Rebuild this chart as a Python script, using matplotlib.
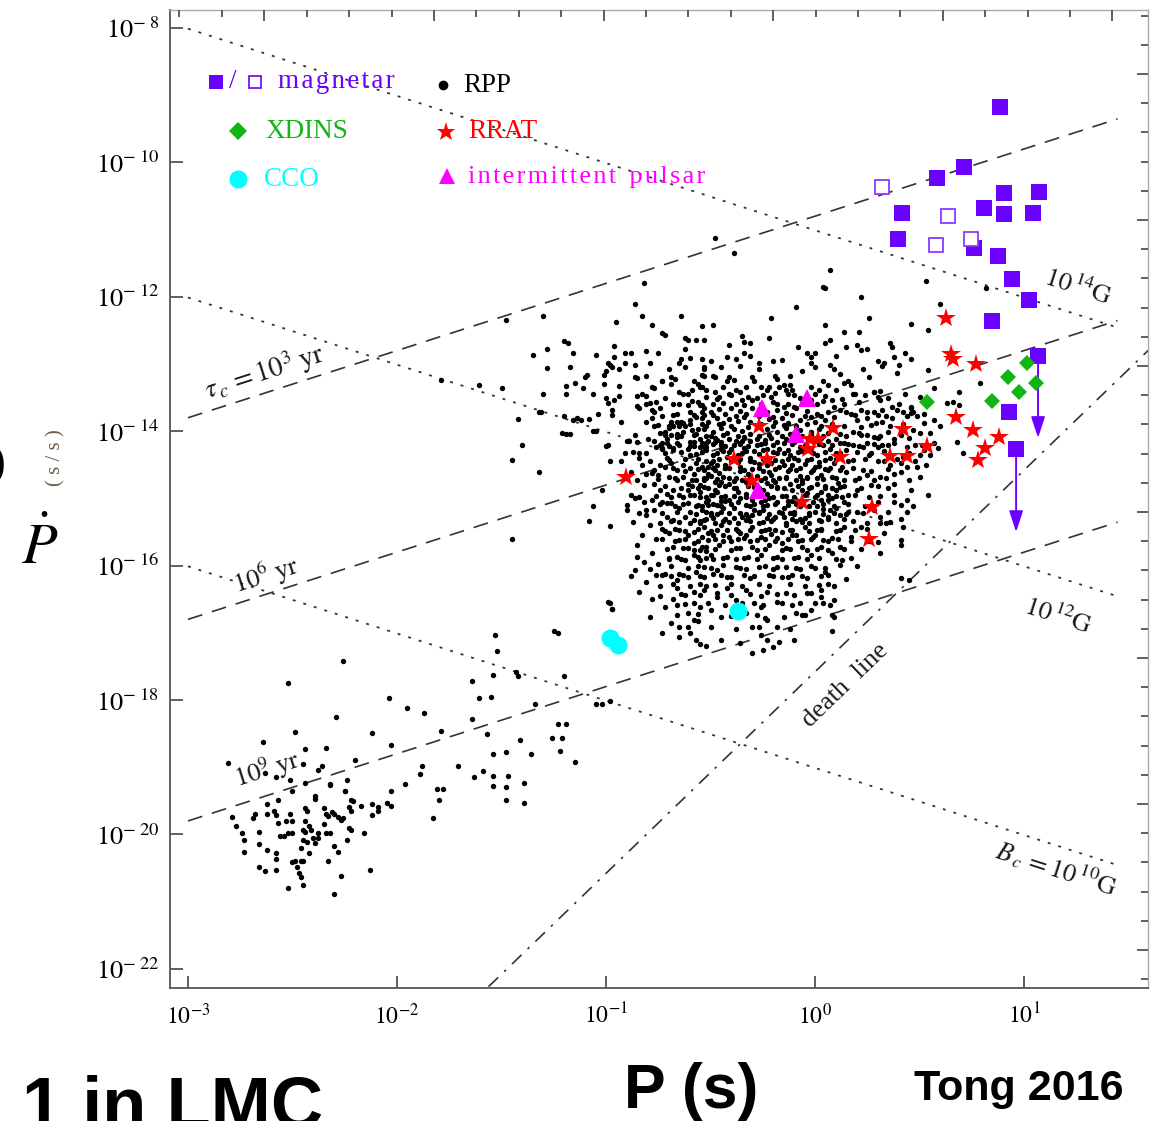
import matplotlib
matplotlib.use('Agg')
import matplotlib.pyplot as plt
import numpy as np

plt.rcParams['mathtext.fontset'] = 'stix'
plt.rcParams['font.family'] = ['Liberation Serif', 'DejaVu Serif']

# ---------------- data (log10 P [s], log10 Pdot [s/s]) ----------------
mag_logP = [0.885, 0.713, 0.584, 0.416, 0.397, 0.904, 1.072, 0.809, 0.904, 1.043,
            0.761, 0.876, 0.943, 1.024, 0.847, 1.067, 0.928, 0.962]
mag_logPdot = [-9.18, -10.07, -10.23, -10.75, -11.14, -10.46, -10.44, -10.68, -10.77, -10.75,
               -11.27, -11.39, -11.74, -12.05, -12.36, -12.88, -13.71, -14.27]
mag_open_logP = [0.321, 0.636, 0.579, 0.746]
mag_open_logPdot = [-10.37, -10.80, -11.23, -11.14]
# magnetars whose Pdot is an upper limit (arrow from value down to end)
lim_logP = [1.067, 0.962]
lim_logPdot = [-12.88, -14.27]
lim_end_logPdot = [-14.10, -15.50]

xdins_logP = [0.536, 0.923, 1.014, 0.976, 1.057, 0.847]
xdins_logPdot = [-13.57, -13.19, -12.99, -13.42, -13.28, -13.55]

cco_logP = [-0.368, -0.981, -0.943]
cco_logPdot = [-16.68, -17.08, -17.18]

ip_logP = [-0.254, -0.038, -0.091, -0.273]
ip_logPdot = [-13.65, -13.51, -14.04, -14.88]

rrat_logP = [0.627, 0.650, 0.660, 0.770, 0.675, 0.756, 0.880, 0.813, 0.780, 0.421, 0.536,
             0.440, 0.359, 0.086, 0.120, 0.273, 0.258, -0.904, -0.268, -0.388, -0.230,
             -0.301, -0.062, -0.024, 0.014, -0.033]
rrat_logPdot = [-12.32, -12.85, -12.92, -13.00, -13.79, -13.98, -14.09, -14.25, -14.43, -13.97, -14.22,
                -14.37, -14.37, -13.95, -14.38, -15.13, -15.60, -14.68, -13.92, -14.41, -14.41,
                -14.74, -15.05, -14.12, -14.12, -14.27]

rpp_msp = [(-2.26,-17.42),(-2.52,-17.74),(-2.04,-17.97),(-1.95,-18.12),(-1.87,-18.20),(-2.29,-18.26),
 (-2.49,-18.47),(-2.12,-18.49),(-2.64,-18.62),(-2.03,-18.67),(-2.34,-18.71),(-2.44,-18.73),(-2.81,-18.94),
 (-2.63,-19.08),(-2.45,-18.96),(-2.36,-18.98),(-2.20,-18.89),(-2.58,-19.14),(-2.51,-19.19),(-2.50,-19.35),
 (-2.44,-19.23),(-2.38,-19.04),(-2.32,-19.25),(-2.24,-19.19),(-2.25,-19.35),(-2.03,-19.35),(-1.96,-19.25),
 (-1.89,-19.10),(-1.88,-18.98),(-1.71,-18.98),(-1.79,-18.46),(-1.64,-17.72),(-1.61,-17.97),(-1.55,-17.95),
 (-1.54,-17.63),(-1.53,-17.03),(-1.52,-17.27),(-1.64,-18.28),(-1.57,-18.51),(-1.43,-17.58),(-1.42,-17.64),
 (-1.25,-16.97),(-1.23,-17.01),(-1.20,-17.65),(-1.34,-18.06),(-1.23,-18.36),(-1.19,-18.36),(-1.26,-18.57),
 (-1.21,-18.56),(-1.22,-18.76),(-1.15,-18.93),(-1.41,-18.59),(-1.36,-18.81),(-1.54,-18.81),(-1.48,-18.78),
 (-1.59,-19.06),(-1.54,-19.13),(-1.47,-19.13),(-1.39,-19.24),(-1.63,-19.14),(-1.54,-19.28),(-1.48,-19.29),
 (-1.48,-19.49),(-1.39,-19.53),(-1.81,-19.33),(-1.78,-19.33),(-1.80,-19.49),(-1.83,-19.76),(-2.13,-20.53),
 (-1.05,-18.06),(-1.02,-18.06),(-0.98,-18.01),(-0.98,-16.55),(-0.97,-16.64),
 (-2.79,-19.74),(-2.77,-19.88),(-2.74,-19.98),(-2.73,-20.08),(-2.73,-20.26),(-2.68,-19.69),(-2.69,-19.76),
 (-2.66,-20.15),(-2.66,-19.96),(-2.62,-19.55),(-2.62,-19.69),(-2.62,-20.23),(-2.66,-20.48),(-2.63,-20.55),
 (-2.59,-19.65),(-2.58,-19.71),(-2.57,-19.83),(-2.58,-20.28),(-2.58,-20.36),(-2.58,-20.53),(-2.57,-19.49),
 (-2.56,-20.03),(-2.54,-20.03),(-2.53,-19.80),(-2.50,-19.80),(-2.51,-19.70),(-2.52,-19.98),(-2.50,-19.98),
 (-2.50,-20.41),(-2.48,-20.48),(-2.47,-20.58),(-2.49,-20.39),(-2.46,-20.39),(-2.45,-20.39),(-2.46,-20.64),
 (-2.52,-20.80),(-2.45,-20.75),(-2.45,-19.93),(-2.44,-19.96),(-2.45,-20.08),(-2.43,-20.12),(-2.42,-20.27),
 (-2.46,-20.21),(-2.44,-19.80),(-2.44,-19.61),(-2.43,-19.65),(-2.42,-19.88),(-2.41,-19.93),(-2.40,-20.05),
 (-2.39,-20.13),(-2.38,-19.98),(-2.38,-20.05),(-2.39,-19.43),(-2.39,-19.47),(-2.35,-19.60),(-2.35,-19.84),
 (-2.34,-19.70),(-2.33,-19.73),(-2.34,-19.98),(-2.32,-19.98),(-2.31,-19.66),(-2.30,-19.69),(-2.28,-19.74),
 (-2.27,-19.79),(-2.26,-19.76),(-2.30,-20.18),(-2.28,-20.26),(-2.33,-20.40),(-2.27,-20.62),(-2.30,-20.89),
 (-2.32,-19.26),(-2.25,-19.36),(-2.23,-19.59),(-2.22,-19.65),(-2.22,-19.49),(-2.21,-19.50),(-2.23,-19.91),
 (-2.22,-19.94),(-2.24,-20.09),(-2.17,-19.58),(-2.16,-19.98),(-2.12,-19.71),(-2.12,-19.55),(-2.09,-19.59),
 (-2.09,-19.65),(-2.05,-19.53),(-2.03,-19.58)]

rpp_halo = [(-1.79,-13.24),(-1.61,-13.31),(-1.50,-13.36),(-1.42,-13.82),(-1.48,-12.35),
 (-0.82,-11.79),(-0.86,-12.10),(-1.30,-12.28),(-0.95,-12.37),(-0.83,-12.28),(-0.78,-12.42),
 (-0.64,-12.28),(-0.54,-12.44),(-0.73,-12.54),(-0.72,-12.57),(-0.62,-12.62),(-0.61,-12.64),(-0.57,-12.64),
 (-0.53,-12.64),(-1.20,-12.66),(-1.18,-12.69),(-1.28,-12.78),(-1.35,-12.87),(-1.16,-12.83),(-1.05,-12.87),
 (-0.96,-12.73),(-0.96,-12.89),(-0.91,-12.84),(-0.88,-12.84),(-0.81,-12.80),(-0.75,-12.84),(-0.62,-12.78),
 (-0.64,-12.92),(-0.60,-12.91),(-0.54,-12.93),(-0.99,-12.98),(-0.98,-13.01),(-0.97,-13.04),(-0.94,-13.07),
 (-0.91,-12.98),(-0.86,-13.02),(-0.79,-12.98),(-0.70,-13.07),(-0.65,-12.98),(-0.62,-13.05),(-0.53,-13.04),
 (-1.28,-13.06),(-1.17,-13.05),(-1.09,-13.17),(-1.10,-13.20),(-1.01,-13.17),(-1.00,-13.10),(-0.86,-13.20),
 (-0.85,-13.21),(-0.81,-13.18),(-0.73,-13.25),(-0.69,-13.20),(-0.67,-13.23),(-0.58,-13.25),(-0.54,-13.17),
 (-1.30,-13.45),(-1.19,-13.32),(-1.19,-13.45),(-1.15,-13.28),(-1.11,-13.36),(-1.06,-13.44),(-1.01,-13.30),
 (-0.94,-13.33),(-0.85,-13.48),(-0.83,-13.44),(-0.78,-13.34),(-0.77,-13.36),(-0.73,-13.26),(-0.69,-13.30),
 (-0.65,-13.41),(-0.63,-13.45),(-0.59,-13.38),(-0.56,-13.30),(-0.55,-13.34),(-1.32,-13.71),(-1.31,-13.71),
 (-1.20,-13.77),(-1.16,-13.84),(-1.14,-13.80),(-1.12,-13.84),(-1.08,-13.82),(-1.06,-14.00),(-1.05,-14.00),
 (-1.04,-13.74),(-1.00,-13.51),(-0.99,-13.58),(-0.97,-13.69),(-0.97,-13.76),(-0.96,-13.53),(-0.94,-13.48),
 (-0.93,-13.87),(-0.90,-14.14),(-0.89,-14.14),(-0.85,-13.62),(-0.84,-13.66),(-0.81,-13.60),(-0.79,-13.58),
 (-0.78,-13.69),(-0.77,-13.72),(-0.81,-13.87),(-0.77,-13.93),(-0.74,-13.66),(-0.72,-14.01),(-0.70,-13.93),
 (-0.69,-13.87),(-0.66,-13.87),(-0.65,-13.92),(-0.64,-13.86),(-0.63,-13.88),(-0.65,-13.60),(-0.61,-13.61),
 (-0.60,-13.72),(-0.58,-13.76),(-0.56,-13.56),(-0.55,-13.61),(-0.54,-13.71),(-0.53,-13.76),(-0.59,-13.98),
 (-0.63,-14.01),(-0.66,-14.04),(-1.21,-14.02),(-1.19,-14.04),(-1.17,-14.04),(-1.40,-14.21),(-0.99,-14.21),
 (-0.77,-14.14),(-0.73,-14.17),(-0.71,-14.11),(-0.69,-14.06),(-0.73,-14.25),(-0.70,-14.22),(-0.68,-14.25),
 (-0.60,-14.16),(-0.58,-14.22),(-0.54,-14.17),(-0.52,-14.23),(-0.70,-13.95),(-0.66,-14.09),(-0.62,-13.93),
 (-0.58,-14.05),(-0.54,-13.90),(-0.52,-14.07),(-0.74,-14.02),(-0.78,-13.80),(-0.68,-13.76),(-0.60,-13.83),
 (-0.56,-13.97),
 (-0.48,-11.12),(-0.39,-11.35),(0.07,-11.60),(0.04,-11.85),(0.05,-11.87),(0.22,-12.01),(-0.09,-12.15),
 (-0.21,-12.31),(0.26,-12.32),(0.53,-11.76),(0.46,-12.40),(0.54,-12.50),(0.60,-12.10),(-0.49,-12.42),
 (-0.35,-12.59),(-0.34,-12.67),(-0.31,-12.69),(0.05,-12.42),(0.14,-12.53),(0.21,-12.53),(0.05,-12.69),
 (0.07,-12.64),(-0.08,-12.75),(0.15,-12.75),(0.20,-12.72),(0.22,-12.79),(0.25,-12.78),(0.36,-12.69),
 (0.37,-12.75),(0.38,-12.89),(0.43,-12.84),(-0.04,-12.83),(0.00,-12.83),(-0.02,-12.90),(-0.02,-12.98),
 (-0.16,-12.94),(-0.20,-12.95),(-0.34,-12.83),(-0.31,-12.88),(-0.42,-12.89),(-0.38,-12.92),(-0.50,-12.95),
 (-0.36,-13.03),(-0.27,-13.08),(-0.53,-13.08),(-0.06,-13.11),(0.07,-13.02),(0.09,-13.07),(0.23,-13.08),
 (0.32,-13.03),(0.33,-12.98),(0.39,-13.14),(0.46,-12.92),(0.54,-13.09),(-0.53,-13.18),(-0.49,-13.18),
 (-0.48,-13.19),(-0.41,-13.19),(-0.39,-13.24),(-0.42,-13.26),(-0.30,-13.19),(-0.29,-13.26),(-0.19,-13.18),
 (-0.18,-13.23),(0.04,-13.25),(0.06,-13.31),(0.10,-13.39),(0.16,-13.26),(0.17,-13.31),(0.19,-13.44),
 (0.28,-13.41),(0.31,-13.40),(0.82,-11.87),(0.57,-13.36),(0.69,-13.41),(0.79,-13.28),(0.69,-13.61),
 (0.63,-13.58),(0.66,-13.57),(0.50,-13.49),(0.60,-13.93),(0.68,-14.16),(0.71,-14.33),(0.59,-14.25),
 (0.50,-14.35),(0.46,-13.64),(0.46,-13.73),(0.18,-13.44),(0.14,-13.29),(0.28,-13.41),(0.30,-13.49),
 (-0.45,-13.05),(-0.27,-12.99),(-0.12,-13.18),(0.00,-13.05),(0.12,-13.15),(0.26,-13.20),(0.40,-13.02),
 (-0.41,-12.72),(-0.22,-12.62),(0.10,-12.88),(0.30,-12.95)]

rpp_core = [(-0.54,-13.34),(-0.52,-13.39),(-0.48,-13.41),(-0.46,-13.49),(-0.52,-13.49),(-0.49,-13.59),
 (-0.54,-13.61),(-0.44,-13.34),(-0.38,-13.38),(-0.40,-13.46),(-0.36,-13.41),(-0.33,-13.34),(-0.32,-13.49),
 (-0.30,-13.54),(-0.34,-13.61),(-0.38,-13.59),(-0.26,-13.34),(-0.23,-13.39),(-0.22,-13.34),(-0.25,-13.46),
 (-0.21,-13.49),(-0.17,-13.34),(-0.15,-13.31),(-0.14,-13.39),(-0.12,-13.31),(-0.11,-13.38),(-0.13,-13.44),
 (-0.10,-13.46),(-0.18,-13.59),(-0.15,-13.64),(-0.13,-13.59),(-0.10,-13.64),(-0.02,-13.34),(0.00,-13.44),
 (0.02,-13.39),(-0.02,-13.54),(0.01,-13.59),(0.08,-13.54),(0.09,-13.64),(0.06,-13.71),(0.12,-13.68),
 (0.15,-13.71),(0.19,-13.76),(0.22,-13.68),(0.25,-13.71),(0.28,-13.71),(0.32,-13.68),(0.37,-13.64),
 (0.39,-13.68),(0.42,-13.71),(0.46,-13.66),(0.47,-13.71),(0.44,-13.78),(0.20,-13.83),(0.25,-13.81),
 (0.29,-13.88),(0.32,-13.86),(0.34,-13.78),(0.49,-13.78),(0.52,-13.88),(0.57,-13.83),(0.18,-14.01),
 (0.21,-14.03),(0.25,-14.06),(0.28,-14.08),(0.35,-14.01),(0.47,-13.98),(0.50,-14.03),(0.55,-14.03),
 (0.14,-14.18),(0.18,-14.21),(0.25,-14.18),(0.32,-14.21),(0.38,-14.18),(0.44,-14.23),(0.51,-14.21),
 (0.57,-14.18),
 (-0.53,-13.66),(-0.50,-13.72),(-0.46,-13.67),(-0.43,-13.74),(-0.40,-13.65),(-0.36,-13.70),(-0.33,-13.75),
 (-0.30,-13.66),(-0.23,-13.71),(-0.18,-13.68),(-0.14,-13.73),(-0.09,-13.66),(-0.04,-13.70),(0.01,-13.74),
 (-0.54,-13.81),(-0.51,-13.86),(-0.47,-13.80),(-0.44,-13.88),(-0.41,-13.82),(-0.37,-13.85),(-0.34,-13.79),
 (-0.31,-13.87),(-0.22,-13.82),(-0.19,-13.86),(-0.16,-13.80),(-0.13,-13.88),(-0.07,-13.83),(-0.02,-13.79),
 (0.00,-13.87),(0.05,-13.84),(-0.53,-13.96),(-0.49,-14.01),(-0.45,-13.95),(-0.42,-14.02),(-0.39,-13.97),
 (-0.35,-14.00),(-0.23,-13.96),(-0.18,-14.01),(-0.14,-13.95),(-0.10,-14.03),(-0.07,-13.98),(-0.02,-14.01),
 (0.02,-13.96),(0.06,-14.02),(0.09,-13.97),(-0.55,-14.11),(-0.51,-14.15),(-0.48,-14.10),(-0.45,-14.16),
 (-0.41,-14.12),(-0.38,-14.14),(-0.34,-14.09),(-0.31,-14.15),(-0.28,-14.11),(-0.24,-14.13),(-0.21,-14.10),
 (-0.18,-14.16),(-0.14,-14.12),(0.00,-14.14),(0.03,-14.10),(0.06,-14.15),(0.10,-14.11),
 (-1.45,-14.43),(-1.32,-14.61),(-1.00,-14.22),(-0.98,-14.45),(-0.93,-14.45),(-0.91,-14.32),(-0.87,-14.31),
 (-0.84,-14.33),(-0.81,-14.32),(-0.85,-14.16),(-0.83,-14.50),(-0.81,-14.63),(-0.85,-14.73),(-1.02,-14.87),
 (-1.06,-15.11),(-1.08,-15.34),(-0.98,-15.41),(-0.90,-15.10),(-0.90,-15.18),(-0.88,-14.95),(-0.84,-14.98),
 (-0.82,-15.05),(-0.81,-15.17),(-0.81,-15.25),(-1.45,-15.61),(-0.85,-15.87),(-0.86,-16.07),(-0.81,-16.25),
 (-0.76,-16.14),(-0.73,-16.14),(-0.78,-16.49),(-0.74,-16.45),(-0.99,-16.54),(-0.97,-16.64),(-0.79,-16.76),
 (-0.73,-17.01),(-0.65,-16.91),(-0.61,-16.91),(-0.65,-17.06),(-0.60,-17.01),(-0.58,-16.81),(-0.56,-16.83),
 (-0.57,-17.11),(-0.55,-17.16),
 (-0.76,-14.23),(-0.73,-14.26),(-0.71,-14.18),(-0.68,-14.28),(-0.65,-14.21),(-0.61,-14.26),(-0.58,-14.16),
 (-0.55,-14.23),(-0.52,-14.18),(-0.74,-14.50),(-0.72,-14.53),(-0.69,-14.48),(-0.66,-14.58),(-0.63,-14.50),
 (-0.60,-14.55),(-0.57,-14.48),(-0.53,-14.58),(-0.51,-14.53),(-0.70,-14.68),(-0.66,-14.73),(-0.63,-14.68),
 (-0.61,-14.78),(-0.57,-14.73),(-0.55,-14.80),(-0.52,-14.70),(-0.74,-14.88),(-0.71,-14.93),(-0.68,-14.88),
 (-0.65,-14.95),(-0.61,-14.88),(-0.58,-14.95),(-0.55,-14.90),(-0.52,-14.98),(-0.73,-15.05),(-0.71,-15.07),
 (-0.69,-15.07),(-0.65,-15.15),(-0.61,-15.07),(-0.57,-15.12),(-0.54,-15.17),(-0.51,-15.10),(-0.71,-15.27),
 (-0.68,-15.32),(-0.65,-15.35),(-0.62,-15.27),(-0.58,-15.32),(-0.55,-15.37),(-0.52,-15.30),(-0.70,-15.52),
 (-0.65,-15.47),(-0.61,-15.55),(-0.58,-15.50),(-0.54,-15.57),(-0.51,-15.52),(-0.68,-15.72),(-0.65,-15.62),
 (-0.61,-15.74),(-0.58,-15.67),(-0.55,-15.77),(-0.52,-15.72),(-0.66,-15.87),(-0.62,-15.92),(-0.58,-15.84),
 (-0.55,-15.92),(-0.52,-15.89),(-0.72,-16.12),(-0.65,-16.12),(-0.61,-16.17),(-0.57,-16.09),(-0.53,-16.17),
 (-0.66,-16.34),(-0.62,-16.44),(-0.58,-16.39),(-0.53,-16.36),(-0.66,-16.59),(-0.58,-16.56),(-0.55,-16.61),
 (-0.61,-16.71),
 (-0.53,-14.23),(-0.49,-14.35),(-0.45,-14.21),(-0.42,-14.38),(-0.34,-14.25),(-0.31,-14.40),(-0.28,-14.21),
 (-0.18,-14.33),(-0.15,-14.18),(-0.10,-14.40),(-0.07,-14.23),(0.01,-14.35),(0.04,-14.21),(0.07,-14.40),
 (0.15,-14.28),(0.18,-14.43),(0.23,-14.23),(0.26,-14.35),(0.30,-14.23),(0.41,-14.48),(0.49,-14.53),
 (0.55,-14.35),(-0.54,-14.53),(-0.51,-14.63),(-0.47,-14.50),(-0.44,-14.68),(-0.41,-14.55),(-0.38,-14.70),
 (-0.34,-14.58),(-0.23,-14.50),(-0.21,-14.65),(-0.17,-14.53),(-0.14,-14.68),(-0.09,-14.58),(-0.04,-14.68),
 (0.00,-14.53),(0.03,-14.65),(0.07,-14.55),(0.10,-14.70),(0.15,-14.60),(0.19,-14.73),(0.23,-14.58),
 (0.31,-14.68),(0.38,-14.63),(0.44,-14.53),(-0.53,-14.83),(-0.50,-14.95),(-0.46,-14.80),(-0.43,-14.97),
 (-0.39,-14.85),(-0.36,-15.00),(-0.25,-14.87),(-0.22,-15.00),(-0.18,-14.83),(-0.14,-14.97),(-0.02,-14.83),
 (0.01,-14.95),(0.05,-14.85),(0.08,-15.00),(0.12,-14.83),(0.16,-14.95),(0.20,-14.87),(0.31,-14.97),
 (0.38,-14.95),(0.44,-15.02),(0.54,-14.95),(-0.54,-15.12),(-0.50,-15.25),(-0.47,-15.10),(-0.43,-15.30),
 (-0.39,-15.15),(-0.35,-15.27),(-0.31,-15.12),(-0.27,-15.22),(-0.23,-15.10),(-0.19,-15.27),(-0.15,-15.15),
 (-0.11,-15.30),(-0.07,-15.12),(-0.03,-15.25),(0.01,-15.12),(0.06,-15.27),(0.10,-15.15),(0.14,-15.30),
 (0.20,-15.20),(0.31,-15.27),(0.34,-15.37),(0.41,-15.10),(0.44,-15.20),(-0.53,-15.42),(-0.49,-15.54),
 (-0.45,-15.40),(-0.41,-15.57),(-0.38,-15.45),(-0.34,-15.59),(-0.30,-15.42),(-0.26,-15.57),(-0.22,-15.45),
 (-0.18,-15.59),(-0.14,-15.40),(-0.09,-15.54),(-0.05,-15.42),(-0.01,-15.57),(0.03,-15.45),(0.08,-15.59),
 (0.12,-15.47),(0.17,-15.57),(0.22,-15.42),(0.26,-15.64),(0.31,-15.82),(0.41,-15.62),(0.41,-15.69),
 (-0.54,-15.72),(-0.50,-15.84),(-0.46,-15.69),(-0.42,-15.87),(-0.38,-15.74),(-0.34,-15.89),(-0.30,-15.72),
 (-0.26,-15.84),(-0.22,-15.69),(-0.18,-15.87),(-0.14,-15.74),(-0.10,-15.89),(-0.06,-15.72),(-0.02,-15.84),
 (0.03,-15.72),(0.08,-15.82),(0.12,-15.72),(0.17,-15.89),(-0.53,-16.02),(-0.49,-16.12),(-0.44,-15.99),
 (-0.40,-16.17),(-0.36,-16.04),(-0.31,-16.19),(-0.27,-16.02),(-0.22,-16.14),(-0.18,-16.02),(-0.13,-16.17),
 (-0.09,-16.04),(-0.04,-16.19),(0.00,-16.04),(0.05,-16.09),(0.02,-16.29),(0.09,-16.31),(-0.52,-16.31),
 (-0.47,-16.46),(-0.42,-16.34),(-0.38,-16.51),(-0.33,-16.36),(-0.29,-16.56),(-0.23,-16.39),(-0.18,-16.54),
 (-0.14,-16.41),(-0.07,-16.56),(-0.02,-16.41),(0.04,-16.56),(0.09,-16.51),(-0.50,-16.66),(-0.45,-16.76),
 (-0.33,-16.71),(-0.30,-16.91),(-0.26,-16.61),(-0.23,-16.81),(-0.09,-16.71),(-0.06,-16.74),(0.08,-16.98),
 (-0.18,-16.91),(-0.45,-17.11),(-0.26,-17.03),(-0.23,-17.11),(-0.25,-17.26),(-0.20,-17.21),(-0.17,-17.13),
 (0.41,-16.19),(0.45,-16.21),(0.41,-15.30),(0.42,-15.42),(0.31,-15.37),(0.36,-15.35),(0.45,-14.73),
 (0.38,-14.78),(0.53,-14.50),
 (-0.52,-14.28),(-0.48,-14.16),(-0.44,-14.30),(-0.39,-14.21),(-0.37,-14.35),(-0.25,-14.28),(-0.22,-14.40),
 (-0.13,-14.28),(-0.04,-14.43),(-0.02,-14.25),(0.10,-14.33),(0.12,-14.18),(-0.53,-14.73),(-0.49,-14.55),
 (-0.45,-14.75),(-0.36,-14.53),(-0.31,-14.68),(-0.27,-14.55),(-0.26,-14.73),(-0.19,-14.75),(-0.11,-14.50),
 (-0.06,-14.73),(-0.02,-14.60),(0.13,-14.53),(-0.52,-15.05),(-0.48,-14.87),(-0.41,-15.02),(-0.33,-14.93),
 (-0.29,-14.83),(-0.26,-15.05),(-0.11,-14.87),(-0.09,-15.02),(-0.06,-14.87),(0.03,-15.02),(0.10,-14.87),
 (0.14,-15.05),(-0.53,-15.32),(-0.45,-15.20),(-0.41,-15.35),(-0.33,-15.32),(-0.29,-15.17),(-0.25,-15.35),
 (-0.17,-15.20),(-0.10,-15.20),(-0.06,-15.35),(0.02,-15.32),(0.07,-15.17),(0.16,-15.20),(-0.51,-15.62),
 (-0.47,-15.47),(-0.40,-15.64),(-0.36,-15.52),(-0.28,-15.62),(-0.24,-15.47),(-0.16,-15.67),(-0.11,-15.47),
 (-0.06,-15.62),(0.01,-15.47),(0.06,-15.64),(0.14,-15.42),
 (-0.60,-14.36),(-0.56,-14.41),(-0.49,-14.44),(-0.45,-14.27),(-0.40,-14.45),(-0.33,-14.30),(-0.29,-14.46),
 (-0.23,-14.26),(-0.16,-14.45),(-0.12,-14.35),(-0.06,-14.30),(0.02,-14.46),(-0.58,-14.64),(-0.50,-14.66),
 (-0.46,-14.62),(-0.39,-14.74),(-0.32,-14.63),(-0.28,-14.66),(-0.22,-14.60),(-0.17,-14.70),(-0.12,-14.56),
 (-0.07,-14.66),(0.01,-14.70),(0.06,-14.58),(-0.63,-14.98),(-0.56,-14.84),(-0.47,-14.90),(-0.43,-15.04),
 (-0.37,-14.90),(-0.30,-15.03),(-0.23,-14.93),(-0.18,-14.84),(-0.13,-15.04),(-0.04,-14.92),(0.03,-14.90),
 (0.10,-14.96),(-0.60,-15.20),(-0.50,-15.21),(-0.44,-15.14),(-0.36,-15.22),(-0.30,-15.25),(-0.25,-15.18),
 (-0.20,-15.30),(-0.12,-15.22),(-0.07,-15.30),(0.00,-15.20),(0.04,-15.16),(0.12,-15.24),
 (0.08,-16.73),(0.09,-16.76),(0.03,-16.36),(0.03,-16.46),(0.07,-16.58),(-0.02,-16.66),(-0.24,-16.78),
 (0.12,-15.99),(0.06,-16.14)]

rpp_core_dense = [
 (-0.81,-13.47),(-0.72,-13.50),(-0.61,-13.45),(-0.47,-13.52),(-0.41,-13.44),(-0.28,-13.50),(-0.19,-13.43),
 (-0.07,-13.51),(0.05,-13.47),(0.13,-13.52),(0.24,-13.46),(0.35,-13.50),(0.43,-13.44),
 (-0.76,-13.56),(-0.68,-13.59),(-0.59,-13.55),(-0.44,-13.58),(-0.35,-13.54),(-0.26,-13.60),(-0.20,-13.56),
 (-0.06,-13.58),(0.04,-13.55),(0.14,-13.60),(0.21,-13.57),(0.31,-13.54),(0.40,-13.59),
 (-0.73,-13.78),(-0.66,-13.74),(-0.57,-13.79),(-0.49,-13.76),(-0.38,-13.78),(-0.27,-13.77),(-0.20,-13.79),
 (-0.11,-13.76),(-0.05,-13.78),(0.03,-13.77),(0.09,-13.79),(0.17,-13.74),(0.30,-13.76),(0.37,-13.80),
 (0.52,-13.75),
 (-0.75,-13.91),(-0.68,-13.93),(-0.60,-13.90),(-0.52,-13.93),(-0.46,-13.90),(-0.40,-13.92),(-0.32,-13.94),
 (-0.26,-13.90),(-0.20,-13.93),(-0.15,-13.91),(-0.09,-13.93),(-0.04,-13.90),(0.03,-13.93),(0.08,-13.90),
 (0.14,-13.92),(0.22,-13.94),(0.27,-13.91),(0.36,-13.93),(0.42,-13.90),
 (-0.72,-14.05),(-0.64,-14.07),(-0.57,-14.04),(-0.50,-14.07),(-0.44,-14.05),(-0.37,-14.07),(-0.31,-14.04),
 (-0.27,-14.07),(-0.22,-14.05),(-0.16,-14.07),(-0.12,-14.04),(-0.06,-14.07),(-0.02,-14.05),(0.04,-14.07),
 (0.12,-14.04),(0.15,-14.07),(0.22,-14.05),(0.31,-14.07),(0.41,-14.05),
 (-0.74,-14.20),(-0.66,-14.18),(-0.60,-14.22),(-0.49,-14.19),(-0.43,-14.22),(-0.36,-14.19),(-0.32,-14.22),
 (-0.26,-14.19),(-0.20,-14.21),(-0.11,-14.19),(-0.05,-14.21),(0.02,-14.19),(0.08,-14.21),(0.16,-14.19),
 (0.21,-14.22),(0.28,-14.19),(0.35,-14.21),(0.48,-14.20),
 (-0.72,-14.33),(-0.64,-14.31),(-0.57,-14.34),(-0.54,-14.31),(-0.47,-14.33),(-0.41,-14.31),(-0.35,-14.33),
 (-0.27,-14.34),(-0.20,-14.31),(-0.15,-14.33),(-0.08,-14.31),(-0.01,-14.33),(0.05,-14.31),(0.12,-14.33),
 (0.20,-14.31),(0.27,-14.33),(0.33,-14.30),(0.45,-14.32),
 (-0.70,-14.43),(-0.62,-14.41),(-0.52,-14.44),(-0.46,-14.41),(-0.36,-14.42),(-0.31,-14.44),(-0.25,-14.41),
 (-0.19,-14.43),(-0.13,-14.41),(-0.08,-14.43),(-0.02,-14.41),(0.05,-14.43),(0.10,-14.41),(0.16,-14.44),
 (0.24,-14.42),(0.33,-14.44),(0.39,-14.41),
 (-0.77,-14.57),(-0.68,-14.55),(-0.62,-14.59),(-0.56,-14.56),(-0.48,-14.58),(-0.43,-14.55),(-0.36,-14.59),
 (-0.30,-14.56),(-0.25,-14.59),(-0.19,-14.56),(-0.13,-14.59),(-0.07,-14.55),(-0.01,-14.58),(0.05,-14.56),
 (0.12,-14.58),(0.18,-14.55),(0.27,-14.59),(0.35,-14.56),
 (-0.75,-14.71),(-0.67,-14.69),(-0.59,-14.72),(-0.53,-14.69),(-0.47,-14.71),(-0.41,-14.69),(-0.35,-14.72),
 (-0.24,-14.69),(-0.20,-14.72),(-0.14,-14.70),(-0.09,-14.72),(-0.04,-14.69),(0.04,-14.71),(0.08,-14.68),
 (0.14,-14.72),(0.21,-14.69),(0.28,-14.72),(0.34,-14.69),
 (-0.72,-14.82),(-0.64,-14.84),(-0.59,-14.81),(-0.51,-14.84),(-0.43,-14.82),(-0.38,-14.84),(-0.32,-14.81),
 (-0.27,-14.84),(-0.21,-14.81),(-0.15,-14.84),(-0.08,-14.82),(-0.03,-14.84),(0.05,-14.81),(0.08,-14.84),
 (0.14,-14.82),(0.22,-14.84),(0.30,-14.81),
 (-0.76,-14.96),(-0.69,-14.98),(-0.60,-14.95),(-0.55,-14.98),(-0.49,-14.95),(-0.45,-14.98),(-0.39,-14.96),
 (-0.33,-14.98),(-0.27,-14.95),(-0.20,-14.98),(-0.16,-14.96),(-0.10,-14.98),(-0.05,-14.95),(0.00,-14.98),
 (0.06,-14.95),(0.13,-14.98),(0.19,-14.95),(0.26,-14.98),
 (-0.74,-15.09),(-0.67,-15.11),(-0.63,-15.08),(-0.56,-15.10),(-0.49,-15.08),(-0.45,-15.11),(-0.40,-15.08),
 (-0.33,-15.10),(-0.29,-15.08),(-0.25,-15.11),(-0.19,-15.08),(-0.13,-15.10),(-0.09,-15.08),(-0.03,-15.11),
 (0.04,-15.08),(0.09,-15.11),(0.16,-15.09),(0.24,-15.11),
 (-0.73,-15.22),(-0.66,-15.20),(-0.57,-15.23),(-0.52,-15.20),(-0.47,-15.23),(-0.41,-15.21),(-0.33,-15.23),
 (-0.27,-15.20),(-0.22,-15.23),(-0.16,-15.21),(-0.10,-15.23),(-0.03,-15.21),(0.04,-15.23),(0.09,-15.21),
 (0.15,-15.23),(0.23,-15.21),
 (-0.74,-15.36),(-0.69,-15.34),(-0.60,-15.37),(-0.55,-15.34),(-0.48,-15.36),(-0.44,-15.33),(-0.37,-15.36),
 (-0.31,-15.34),(-0.27,-15.37),(-0.21,-15.34),(-0.14,-15.36),(-0.09,-15.33),(-0.03,-15.36),(0.03,-15.34),
 (0.10,-15.36),(0.18,-15.34),(0.25,-15.36),
 (-0.72,-15.48),(-0.67,-15.46),(-0.62,-15.49),(-0.56,-15.46),(-0.50,-15.49),(-0.42,-15.47),(-0.37,-15.49),
 (-0.31,-15.47),(-0.26,-15.49),(-0.19,-15.47),(-0.16,-15.50),(-0.12,-15.47),(-0.03,-15.49),(0.03,-15.47),
 (0.10,-15.49),(0.19,-15.47),
 (-0.73,-15.61),(-0.67,-15.63),(-0.62,-15.60),(-0.56,-15.63),(-0.48,-15.60),(-0.44,-15.63),(-0.37,-15.61),
 (-0.31,-15.63),(-0.24,-15.60),(-0.19,-15.63),(-0.13,-15.60),(-0.08,-15.63),(-0.02,-15.60),(0.04,-15.62),
 (0.11,-15.60),(0.17,-15.63),
 (-0.71,-15.76),(-0.63,-15.74),(-0.58,-15.77),(-0.52,-15.78),(-0.48,-15.75),(-0.40,-15.77),(-0.36,-15.74),
 (-0.28,-15.77),(-0.24,-15.75),(-0.16,-15.77),(-0.12,-15.75),(-0.04,-15.77),(0.01,-15.75),(0.06,-15.77),
 (0.14,-15.75),
 (-0.70,-15.88),(-0.64,-15.90),(-0.56,-15.87),(-0.49,-15.90),(-0.44,-15.88),(-0.38,-15.90),(-0.32,-15.87),
 (-0.28,-15.90),(-0.20,-15.88),(-0.16,-15.90),(-0.08,-15.87),(-0.04,-15.90),(0.02,-15.88),(0.10,-15.90),
 (-0.69,-16.01),(-0.61,-16.03),(-0.56,-16.00),(-0.50,-16.03),(-0.47,-16.06),(-0.38,-16.02),(-0.33,-16.05),
 (-0.24,-16.01),(-0.20,-16.05),(-0.14,-16.02),(-0.07,-16.05),(-0.02,-16.01),(0.05,-16.03),
 (-0.69,-16.16),(-0.63,-16.14),(-0.55,-16.16),(-0.45,-16.14),(-0.42,-16.17),(-0.34,-16.14),(-0.29,-16.16),
 (-0.20,-16.15),(-0.16,-16.17),(-0.11,-16.14),(-0.06,-16.16),(0.03,-16.15),
 (-0.68,-16.27),(-0.60,-16.30),(-0.55,-16.27),(-0.48,-16.29),(-0.40,-16.27),(-0.35,-16.30),(-0.27,-16.28),
 (-0.22,-16.30),(-0.12,-16.27),(-0.05,-16.30),(0.06,-16.27),
 (-0.64,-16.42),(-0.55,-16.44),(-0.47,-16.41),(-0.40,-16.44),(-0.31,-16.42),(-0.26,-16.45),(-0.18,-16.42),
 (-0.10,-16.44),(-0.04,-16.41),
 (-0.62,-16.57),(-0.51,-16.55),(-0.43,-16.58),(-0.35,-16.56),(-0.25,-16.58),(-0.16,-16.55),(-0.11,-16.58),
 (0.00,-16.56),
 (-0.66,-16.74),(-0.56,-16.72),(-0.40,-16.75),(-0.28,-16.73),(-0.15,-16.76),(-0.05,-16.73),
 (-0.50,-16.92),(-0.38,-16.95),(-0.27,-16.91),(-0.12,-16.94),
 (-0.36,-17.15),(-0.30,-17.30),(-0.10,-17.10),(-0.52,-17.20)]

rpp_core_edges = [
 (-0.86,-14.05),(-0.80,-14.12),(-0.84,-14.40),(-0.79,-14.45),(-0.88,-14.60),(-0.78,-14.62),(-0.82,-14.80),
 (-0.77,-14.78),(-0.86,-15.00),(-0.78,-15.02),(-0.84,-15.22),(-0.77,-15.17),(-0.87,-15.35),(-0.79,-15.40),
 (-0.83,-15.55),(-0.76,-15.60),(-0.85,-15.70),(-0.78,-15.82),(-0.82,-15.95),(-0.75,-15.98),(-0.88,-16.15),
 (-0.79,-16.05),(-0.74,-16.30),(-0.84,-16.40),(-0.72,-16.62),(-0.69,-16.85),(-0.71,-14.40),(-0.75,-14.65),
 (-0.73,-15.45),(-0.70,-15.90),(-0.66,-16.22),(-0.68,-16.50),
 (0.30,-14.10),(0.38,-14.12),(0.45,-14.10),(0.52,-14.28),(0.42,-14.38),(0.30,-14.45),(0.48,-14.45),
 (0.36,-14.50),(0.25,-14.65),(0.41,-14.60),(0.50,-14.68),(0.27,-14.80),(0.35,-14.85),(0.46,-14.88),
 (0.30,-15.05),(0.38,-15.05),(0.47,-15.12),(0.28,-15.18),(0.35,-15.20),(0.25,-15.45),(0.33,-15.52),
 (0.22,-15.75),(0.30,-15.65),(0.20,-16.00),(0.15,-16.20),(0.13,-15.92),
 (-0.47,-14.13),(-0.40,-14.27),(-0.35,-14.14),(-0.29,-14.30),(-0.24,-14.17),(-0.17,-14.26),(-0.10,-14.16),
 (-0.04,-14.28),(0.07,-14.26),(-0.50,-14.48),(-0.43,-14.50),(-0.37,-14.46),(-0.27,-14.49),(-0.21,-14.47),
 (-0.15,-14.51),(-0.05,-14.49),(0.02,-14.52),(0.09,-14.48),(-0.48,-14.76),(-0.41,-14.78),(-0.33,-14.76),
 (-0.29,-14.78),(-0.23,-14.77),(-0.12,-14.78),(-0.06,-14.77),(0.01,-14.79),(0.11,-14.77),(-0.51,-15.02),
 (-0.45,-15.04),(-0.37,-15.05),(-0.24,-15.02),(-0.18,-15.05),(-0.11,-15.04),(-0.01,-15.05),(0.06,-15.03),
 (-0.49,-15.29),(-0.39,-15.29),(-0.32,-15.28),(-0.23,-15.29),(-0.15,-15.28),(-0.05,-15.29),(0.06,-15.30),
 (-0.44,-15.55),(-0.33,-15.54),(-0.21,-15.53),(-0.11,-15.55),(0.00,-15.54)]

B_fields = [1e14, 1e12, 1e10]           # G
tau_ages = [1e3, 1e6, 1e9]              # yr
death_coef_log = -17.58                  # log Pdot at P = 1 s
death_index = 3.0

# ---------------- figure ----------------
W, H = 1160, 1121
fig = plt.figure(figsize=(W / 100, H / 100), dpi=100)
ax_l, ax_r, ax_t, ax_b = 170, 1148, 10, 988
ax = fig.add_axes([ax_l / W, 1 - ax_b / H, (ax_r - ax_l) / W, (ax_b - ax_t) / H])
ax.set_xscale('log')
ax.set_yscale('log')
ax.set_xlim(10 ** -3.086, 10 ** 1.593)
ax.set_ylim(10 ** -22.286, 10 ** -7.732)

# guide lines
Pl = np.logspace(-3, np.log10(28), 200)
for B in B_fields:
    ax.plot(Pl, (B / 3.2e19) ** 2 / Pl, color='#333333', lw=1.3, ls=(0, (1.6, 4.5)), zorder=1)
for t in tau_ages:
    ax.plot(Pl, Pl / (2 * t * 3.156e7), color='#333333', lw=1.2, ls=(0, (9, 6)), zorder=1)
Pd = np.logspace(-3, 2, 200)
ax.plot(Pd, 10 ** death_coef_log * Pd ** death_index, color='#333333', lw=1.2,
        ls=(0, (8, 5, 1.5, 5)), zorder=1)

# RPPs
rpp = rpp_msp + rpp_halo + rpp_core + rpp_core_dense + rpp_core_edges
rpp_logP = np.array([p for p, _ in rpp])
rpp_logPdot = np.array([d for _, d in rpp])
ax.scatter(10 ** rpp_logP, 10 ** rpp_logPdot, s=15, c='black', linewidths=0, zorder=2)

purple = '#6a00ff'
green = '#11b511'
ax.plot(10 ** np.array(mag_logP), 10 ** np.array(mag_logPdot), 's', color=purple, ms=11, mew=0, zorder=4)
ax.plot(10 ** np.array(mag_open_logP), 10 ** np.array(mag_open_logPdot), 's', mfc='white',
        mec='#8a3cff', ms=10, mew=1.3, zorder=4)
for lp, d0, d1 in zip(lim_logP, lim_logPdot, lim_end_logPdot):
    ax.annotate('', xy=(10 ** lp, 10 ** d1), xytext=(10 ** lp, 10 ** d0),
                arrowprops=dict(arrowstyle='-|>,head_length=0.85,head_width=0.28', color=purple,
                                lw=1.4, mutation_scale=15, shrinkA=0, shrinkB=0), zorder=3)
ax.plot(10 ** np.array(xdins_logP), 10 ** np.array(xdins_logPdot), 'D', color=green, ms=8.5, mew=0, zorder=4)
ax.plot(10 ** np.array(cco_logP), 10 ** np.array(cco_logPdot), 'o', color='#00ffff', ms=13, mew=0, zorder=4)
ax.plot(10 ** np.array(rrat_logP), 10 ** np.array(rrat_logPdot), '*', color='#ff0000', ms=15, mew=0, zorder=5)
ax.plot(10 ** np.array(ip_logP), 10 ** np.array(ip_logPdot), '^', color='#ff00ff', ms=13, mew=0, zorder=6)

# ticks & spines
xt = [1e-3, 1e-2, 1e-1, 1e0, 1e1]
ax.set_xticks(xt)
ax.set_xticklabels([r'$10^{-3}$', r'$10^{-2}$', r'$10^{-1}$', r'$10^{0}$', r'$10^{1}$'])
yexp = [8, 10, 12, 14, 16, 18, 20, 22]
ax.set_yticks([10.0 ** -e for e in yexp])
ax.set_yticklabels([r'$10^{-\;%d}$' % e for e in yexp])
ax.minorticks_off()
ax.tick_params(axis='both', which='major', direction='in', length=9, width=1.2, color='#444444',
               top=False, right=False)
ax.tick_params(axis='x', labelsize=17, pad=11)
ax.tick_params(axis='y', labelsize=19, pad=8)
for s in ['left', 'bottom']:
    ax.spines[s].set_color('#555555')
    ax.spines[s].set_linewidth(1.3)
for s in ['top', 'right']:
    ax.spines[s].set_color('#aaaaaa')
    ax.spines[s].set_linewidth(1.0)

# decorative frame ticks on top / right (not tied to data scale)
ax2 = fig.add_axes(ax.get_position(), frameon=False)
ax2.set_xlim(0, 1)
ax2.set_ylim(0, 1)
ax2.xaxis.tick_top()
ax2.yaxis.tick_right()
topx = [264.3 + 42.4 * k for k in range(-2, 21)]
ax2.set_xticks([(x - ax_l) / (ax_r - ax_l) for i, x in zip(range(-2, 21), topx) if i % 4 == 0])
ax2.set_xticks([(x - ax_l) / (ax_r - ax_l) for i, x in zip(range(-2, 21), topx) if i % 4 != 0], minor=True)
righty = [74 + 29.2 * k for k in range(-2, 32)]
ax2.set_yticks([(ax_b - y) / (ax_b - ax_t) for i, y in zip(range(-2, 32), righty) if i % 5 == 0])
ax2.set_yticks([(ax_b - y) / (ax_b - ax_t) for i, y in zip(range(-2, 32), righty) if i % 5 != 0], minor=True)
ax2.tick_params(which='major', direction='in', length=8, width=1.2, color='#444444',
                labeltop=False, labelright=False, labelbottom=False, labelleft=False)
ax2.tick_params(which='minor', direction='in', length=5, width=1.2, color='#444444')
ax2.patch.set_visible(False)

# line labels
lbl = dict(ha='center', va='center', rotation_mode='anchor', fontsize=19, color='#1a1a1a')
ax.text(10 ** -2.632, 10 ** -13.12, r'$\tau_{\,c}\,{=}10^{3}\ \mathrm{yr}$', rotation=17.8,
        **dict(lbl, fontsize=20))
ax.text(10 ** -2.627, 10 ** -16.14, r'$10^{6}\ \mathrm{yr}$', rotation=17.8, **lbl)
ax.text(10 ** -2.622, 10 ** -19.04, r'$10^{9}\ \mathrm{yr}$', rotation=17.8, **lbl)
ax.text(10 ** 1.258, 10 ** -11.85, r'$10^{\,14}\mathrm{G}$', rotation=-17.8, **lbl)
ax.text(10 ** 1.163, 10 ** -16.75, r'$10^{\,12}\mathrm{G}$', rotation=-17.8, **lbl)
ax.text(10 ** 1.158, 10 ** -20.50, r'$B_{\,c}\,{=}10^{\,10}\mathrm{G}$', rotation=-17.8, **lbl)
ax.text(10 ** 0.144, 10 ** -17.78, 'death  line', rotation=44, **lbl)

# legend (hand-built, axes fraction)
def fx(px):
    return (px - ax_l) / (ax_r - ax_l)

def fy(py):
    return (ax_b - py) / (ax_b - ax_t)

hs = '\u200a'
lt = dict(transform=ax.transAxes, ha='left', va='center', fontsize=19.5)
mk = dict(transform=ax.transAxes, clip_on=False, zorder=7, ls='none')
ax.plot([fx(216)], [fy(82)], 's', color=purple, ms=10, mew=0, **mk)
ax.text(fx(229), fy(82), '/', color=purple, **lt)
ax.plot([fx(255)], [fy(82)], 's', mfc='white', mec=purple, ms=9, mew=1.2, **mk)
ax.text(fx(278), fy(81), hs.join('magnetar'), color=purple, **lt)
ax.plot([fx(443)], [fy(85)], 'o', color='black', ms=6, **mk)
ax.text(fx(463), fy(85), 'RPP', color='black', **lt)
ax.plot([fx(238)], [fy(131)], 'D', color=green, ms=9, mew=0, **mk)
ax.text(fx(265), fy(131), 'XDINS', color=green, **lt)
ax.plot([fx(446)], [fy(132)], '*', color='#ff0000', ms=14, mew=0, **mk)
ax.text(fx(468), fy(132), 'RRAT', color='#ff0000', **lt)
ax.plot([fx(238)], [fy(179)], 'o', color='#00ffff', ms=13, mew=0, **mk)
ax.text(fx(264), fy(179), 'CCO', color='#00ffff', **lt)
ax.plot([fx(447)], [fy(176)], '^', color='#ff00ff', ms=12, mew=0, **mk)
ax.text(fx(468), fy(177), hs.join('intermittent') + '  ' + hs.join('pulsar'), color='#ff00ff',
        **dict(lt, fontsize=19))

# outer (slide) texts
fig.text(40 / W, 1 - 548 / H, r'$\dot{P}$', fontsize=42, ha='center', va='center')
fig.text(56 / W, 1 - 458 / H, '( s / s )', rotation=90, fontsize=15, ha='center', va='center',
         color='#6e5c4a')
fig.text(5 / W, 1 - 465 / H, ')', fontsize=34, ha='right', va='center')
sans = ['Liberation Sans Narrow', 'Liberation Sans', 'DejaVu Sans']
fig.text(691 / W, 1 - 1108 / H, 'P (s)', fontsize=45, fontweight='bold', family=sans,
         ha='center', va='baseline')
fig.text(1019 / W, 1 - 1100 / H, 'Tong 2016', fontsize=31, fontweight='bold', family=sans,
         ha='center', va='baseline')
fig.text(22 / W, 1 - 1127 / H, '1 in LMC', fontsize=52, fontweight='bold', family=sans,
         ha='left', va='baseline')

fig.savefig('out.png', dpi=100)
